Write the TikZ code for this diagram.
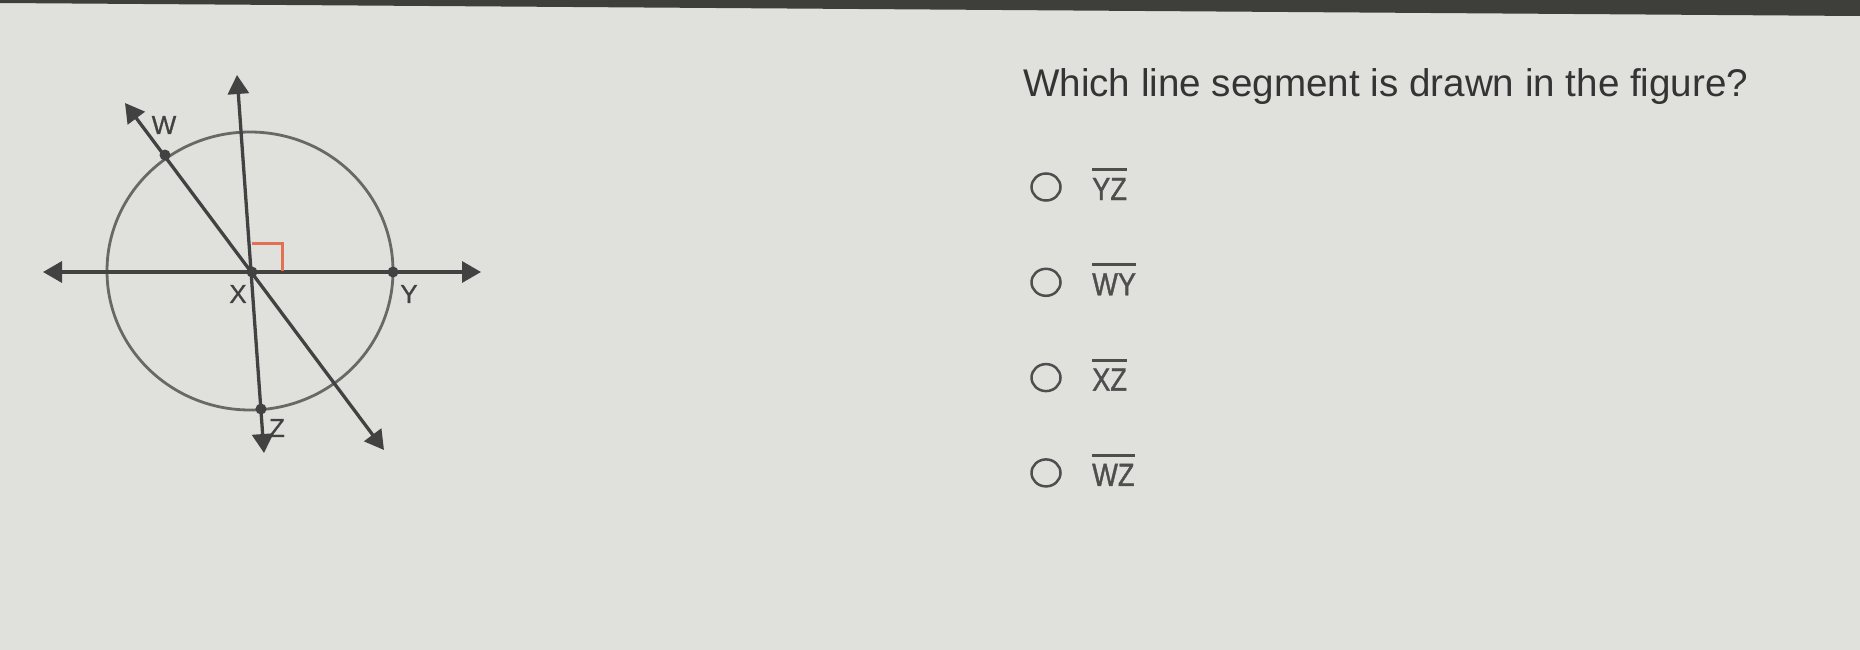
\documentclass[tikz,border=0pt]{standalone}
\usepackage{fontspec}
\setmainfont{Liberation Sans}
\newfontfamily\narrowfont[FakeStretch=0.85, FakeBold=1.2]{Liberation Sans}
\newfontfamily\labelfont[FakeBold=0.8]{Liberation Sans}
\usetikzlibrary{arrows.meta}

\definecolor{paper}{RGB}{224,224,221}
\definecolor{band}{RGB}{62,62,58}
\definecolor{ink}{RGB}{66,66,66}
\definecolor{rim}{RGB}{104,104,102}
\definecolor{anglered}{RGB}{226,112,82}
\definecolor{question}{RGB}{52,52,52}
\definecolor{choice}{RGB}{78,78,78}

% \segbar#text : a letter pair with a bar over it
\def\segbar#1{\vbox{\hrule height 3pt\kern 7pt\hbox{#1}}}

\begin{document}
\begin{tikzpicture}[x=1pt, y=-1pt,
	ray/.style={ink, line width=3.3pt, {Triangle[length=19pt, width=21pt]}-{Triangle[length=19pt, width=21pt]}},
	pointlabel/.style={text=ink, inner sep=0, font=\labelfont\fontsize{26}{26}\selectfont},
	radio/.style={choice, line width=2.5pt},
	answer/.style={anchor=base west, inner sep=0, text=choice, font=\narrowfont\fontsize{32}{32}\selectfont}
]

	% background
	\fill[paper] (0, 0) rectangle (1860, 650);
	\fill[band] (0, 0) -- (1860, 0) -- (1860, 16) -- (0, 3) -- cycle;

	% points
	\coordinate (X) at (252, 272);
	\coordinate (Y) at (393, 272);
	\coordinate (Z) at (261, 409);
	\coordinate (W) at (165, 155);

	% line ends
	\coordinate (left) at (43, 272);
	\coordinate (right) at (481, 272);
	\coordinate (top) at (237, 75);
	\coordinate (bottom) at (264, 453);
	\coordinate (upper) at (125, 103);
	\coordinate (lower) at (384, 450);

	% circle
	\draw[rim, line width=2.8pt] (250, 271) ellipse [x radius=143, y radius=139];

	% lines
	\draw[ray] (left) -- (right);
	\draw[ray] (top) -- (bottom);
	\draw[ray] (upper) -- (lower);

	% right angle
	\draw[color=anglered, line width=3pt] (X) ++(0, -29) -- ++(30, 0) -- ++(0, 28);

	% dots
	\foreach \p in {W, X, Y, Z} {
		\fill[ink] (\p) circle (5.5pt);
	}

	% labels
	\node[pointlabel] (labelW) at (164, 125) {W};
	\node[pointlabel] (labelX) at (238, 294) {X};
	\node[pointlabel] (labelY) at (409, 294) {Y};
	\node[pointlabel] (labelZ) at (277, 428) {Z};

	% question
	\node[anchor=base west, inner sep=0, text=question, font=\fontsize{38.6}{46}\selectfont] (ask) at (1023, 97) {Which line segment is drawn in the figure?};

	% choices
	\def\answers{{"YZ", "WY", "XZ", "WZ"}}
	\foreach \i in {0, ..., 3} {
		\pgfmathsetmacro\ypos{187 + 95.3*\i}
		\pgfmathsetmacro\answer{\answers[\i]}
		\draw[radio] (1046, \ypos) ellipse [x radius=14.5, y radius=13.5];
		\node[answer] (answer\i) at (1092, \ypos + 13) {\segbar{\answer}};
	}
\end{tikzpicture}
\end{document}
